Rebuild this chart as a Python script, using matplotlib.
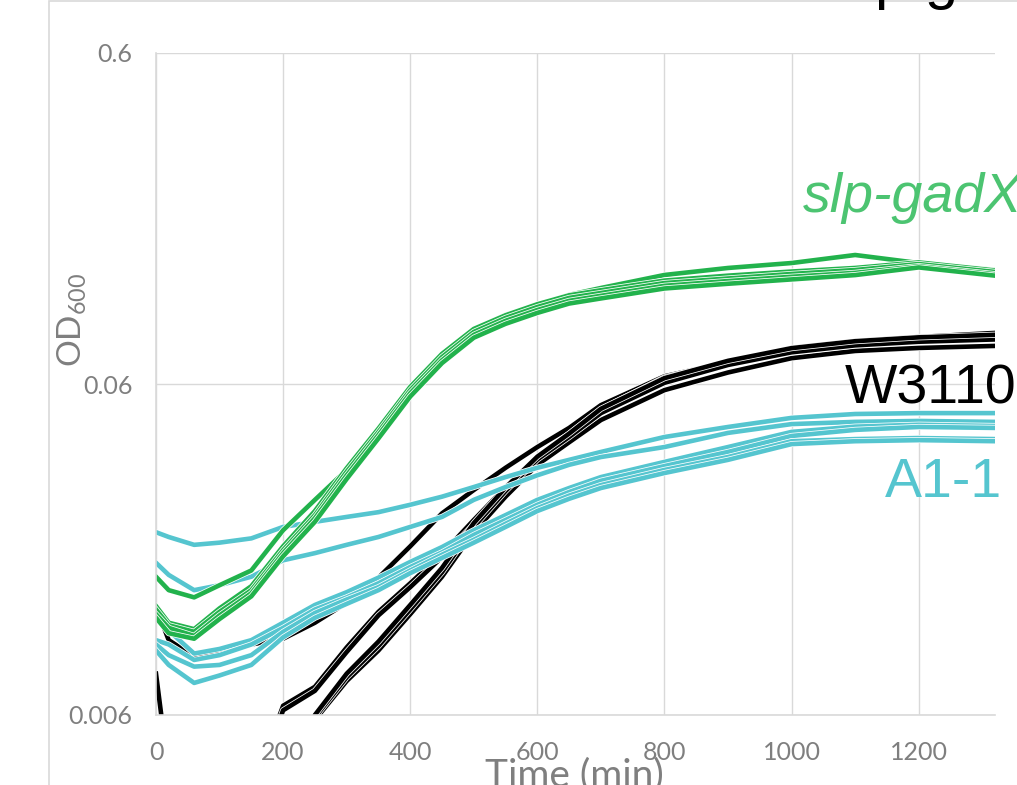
import matplotlib.pyplot as plt
import matplotlib.patheffects as pe
from matplotlib.patches import Rectangle

# time points (min)
time_min = [0, 20, 60, 100, 150, 200, 250, 300, 350, 400, 450, 500,
            550, 600, 650, 700, 800, 900, 1000, 1100, 1200, 1320]

# slp-gadX replicates (OD600)
gadx_1 = [0.0157, 0.0143, 0.0136, 0.0148, 0.0164, 0.0217, 0.0268, 0.0330, 0.0428, 0.0563, 0.0719,
          0.0874, 0.0970, 0.1040, 0.1115, 0.1170, 0.1281, 0.1345, 0.1392, 0.1472, 0.1392, 0.1326]
gadx_2 = [0.0128, 0.0114, 0.0109, 0.0126, 0.0147, 0.0194, 0.0248, 0.0334, 0.0440, 0.0588, 0.0740,
          0.0880, 0.0968, 0.1045, 0.1112, 0.1152, 0.1232, 0.1275, 0.1312, 0.1345, 0.1398, 0.1322]
gadx_3 = [0.0125, 0.0112, 0.0107, 0.0123, 0.0143, 0.0189, 0.0241, 0.0326, 0.0430, 0.0575, 0.0724,
          0.0862, 0.0950, 0.1025, 0.1092, 0.1130, 0.1211, 0.1250, 0.1290, 0.1326, 0.1382, 0.1308]
gadx_4 = [0.0121, 0.0110, 0.0104, 0.0120, 0.0140, 0.0185, 0.0236, 0.0318, 0.0421, 0.0563, 0.0708,
          0.0845, 0.0931, 0.1004, 0.1070, 0.1108, 0.1188, 0.1228, 0.1265, 0.1300, 0.1362, 0.1288]
gadx_5 = [0.0118, 0.0106, 0.0102, 0.0117, 0.0137, 0.0181, 0.0230, 0.0310, 0.0411, 0.0550, 0.0694,
          0.0828, 0.0912, 0.0984, 0.1050, 0.1088, 0.1166, 0.1205, 0.1242, 0.1280, 0.1350, 0.1275]

# W3110 replicates
w3110_1 = [0.0127, 0.0101, 0.0090, 0.0094, 0.0098, 0.0102, 0.0114, 0.0131, 0.0156, 0.0194, 0.0244,
           0.0287, 0.0335, 0.0387, 0.0442, 0.0518, 0.0633, 0.0699, 0.0771, 0.0809, 0.0832, 0.0856]
w3110_2 = [0.0080, 0.0040, 0.0030, 0.0030, 0.0035, 0.0064, 0.0073, 0.0096, 0.0123, 0.0150, 0.0184,
           0.0233, 0.0293, 0.0358, 0.0424, 0.0503, 0.0628, 0.0699, 0.0760, 0.0798, 0.0820, 0.0838]
w3110_3 = [0.0050, 0.0038, 0.0029, 0.0029, 0.0034, 0.0062, 0.0071, 0.0093, 0.0120, 0.0146, 0.0180,
           0.0226, 0.0287, 0.0350, 0.0415, 0.0495, 0.0620, 0.0690, 0.0752, 0.0790, 0.0812, 0.0830]
w3110_4 = [0.0045, 0.0035, 0.0028, 0.0027, 0.0028, 0.0035, 0.0058, 0.0076, 0.0094, 0.0121, 0.0157,
           0.0214, 0.0274, 0.0342, 0.0400, 0.0467, 0.0575, 0.0650, 0.0718, 0.0755, 0.0771, 0.0782]
w3110_5 = [0.0048, 0.0036, 0.0028, 0.0027, 0.0029, 0.0037, 0.0059, 0.0078, 0.0097, 0.0125, 0.0162,
           0.0222, 0.0285, 0.0355, 0.0415, 0.0490, 0.0605, 0.0685, 0.0748, 0.0785, 0.0805, 0.0818]
w3110_6 = [0.0046, 0.0035, 0.0027, 0.0026, 0.0028, 0.0036, 0.0060, 0.0080, 0.0100, 0.0129, 0.0167,
           0.0228, 0.0292, 0.0362, 0.0425, 0.0505, 0.0625, 0.0705, 0.0770, 0.0808, 0.0830, 0.0845]

# A1-1 replicates
a11_1 = [0.0214, 0.0207, 0.0196, 0.0199, 0.0205, 0.0222, 0.0230, 0.0238, 0.0246, 0.0259, 0.0274,
         0.0293, 0.0314, 0.0335, 0.0354, 0.0374, 0.0415, 0.0445, 0.0474, 0.0487, 0.0490, 0.0490]
a11_2 = [0.0173, 0.0159, 0.0143, 0.0148, 0.0157, 0.0176, 0.0185, 0.0196, 0.0207, 0.0222, 0.0238,
         0.0268, 0.0293, 0.0318, 0.0342, 0.0361, 0.0387, 0.0427, 0.0454, 0.0461, 0.0464, 0.0461]
a11_3 = [0.0119, 0.0108, 0.0092, 0.0095, 0.0101, 0.0114, 0.0129, 0.0141, 0.0156, 0.0174, 0.0193,
         0.0217, 0.0241, 0.0268, 0.0291, 0.0314, 0.0349, 0.0387, 0.0430, 0.0446, 0.0452, 0.0448]
a11_4 = [0.0101, 0.0098, 0.0088, 0.0091, 0.0098, 0.0110, 0.0125, 0.0136, 0.0150, 0.0168, 0.0186,
         0.0210, 0.0233, 0.0259, 0.0283, 0.0306, 0.0339, 0.0374, 0.0418, 0.0436, 0.0445, 0.0442]
a11_5 = [0.0098, 0.0091, 0.0084, 0.0085, 0.0091, 0.0107, 0.0122, 0.0134, 0.0146, 0.0164, 0.0183,
         0.0203, 0.0227, 0.0253, 0.0276, 0.0297, 0.0330, 0.0361, 0.0403, 0.0409, 0.0412, 0.0409]
a11_6 = [0.0094, 0.0085, 0.0075, 0.0079, 0.0085, 0.0103, 0.0118, 0.0130, 0.0143, 0.0161, 0.0179,
         0.0199, 0.0222, 0.0248, 0.0270, 0.0291, 0.0323, 0.0354, 0.0395, 0.0403, 0.0406, 0.0403]

y_ticks = [0.006, 0.06, 0.6]
y_tick_labels = ['0.006', '0.06', '0.6']
x_ticks = [0, 200, 400, 600, 800, 1000, 1200]

green = '#22b24c'
black = '#000000'
cyan = '#55c5cf'
grid_c = '#d9d9d9'
tick_c = '#7f7f7f'

plt.rcParams['mathtext.fontset'] = 'custom'
plt.rcParams['mathtext.rm'] = 'Lato'

W, H = 1017, 785
fig = plt.figure(figsize=(W / 100, H / 100), dpi=100)
ax = fig.add_axes([156 / W, 1 - 715 / H, (995 - 156) / W, (715 - 53) / H])

outline = [pe.Stroke(linewidth=4.4, foreground='white'), pe.Normal()]
for ys in [w3110_1, w3110_2, w3110_3, w3110_4, w3110_5, w3110_6]:
    ax.plot(time_min, ys, color=black, lw=3.3, path_effects=outline)
for ys in [a11_1, a11_2, a11_3, a11_4, a11_5, a11_6]:
    ax.plot(time_min, ys, color=cyan, lw=3.3, path_effects=outline)
for ys in [gadx_1, gadx_2, gadx_3, gadx_4, gadx_5]:
    ax.plot(time_min, ys, color=green, lw=3.3, path_effects=outline)

ax.set_yscale('log')
ax.set_ylim(0.006, 0.6)
ax.set_xlim(0, 1320)
ax.set_yticks(y_ticks)
ax.set_yticklabels(y_tick_labels)
ax.yaxis.set_minor_locator(plt.NullLocator())
ax.set_xticks(x_ticks)
ax.tick_params(length=0, labelsize=18, labelcolor=tick_c)
ax.tick_params(axis='y', pad=17)
ax.tick_params(axis='x', pad=19)
for lab in ax.get_xticklabels() + ax.get_yticklabels():
    lab.set_family('Lato')
ax.grid(True, color=grid_c, lw=1)
ax.set_axisbelow(True)
for s in ['top', 'right']:
    ax.spines[s].set_visible(False)
for s in ['left', 'bottom']:
    ax.spines[s].set_color(grid_c)
    ax.spines[s].set_linewidth(1.2)

# outer chart frame
fig.add_artist(Rectangle((49 / W, -0.05), 1.0, 1.05 - 1 / H, transform=fig.transFigure,
                         fill=False, edgecolor=grid_c, lw=1.2))

# axis titles
fig.text(72 / W, 1 - 320 / H, r'OD$_{\mathregular{600}}$', rotation=90, ha='center', va='center',
         fontsize=24, color=tick_c, family='Lato')
fig.text(574 / W, 1 - 786 / H, 'Time (min)', ha='center', va='baseline',
         fontsize=28, color=tick_c, family='Lato')

# strain labels
fig.text(803 / W, 1 - 212 / H, 'slp-gadX', fontsize=40, style='italic', color='#4cc471',
         family='Liberation Sans', va='baseline')
fig.text(845 / W, 1 - 403 / H, 'W3110', fontsize=40, color=black,
         family='Liberation Sans', va='baseline')
fig.text(885 / W, 1 - 497 / H, 'A1-1', fontsize=40, color=cyan,
         family='Liberation Sans', va='baseline')

# cut-off title fragment at top
fig.text(875 / W, 1 + 2 / H, 'p g', fontsize=43, color=black,
         family='Liberation Sans', va='baseline')

fig.savefig('out.png', dpi=100)
